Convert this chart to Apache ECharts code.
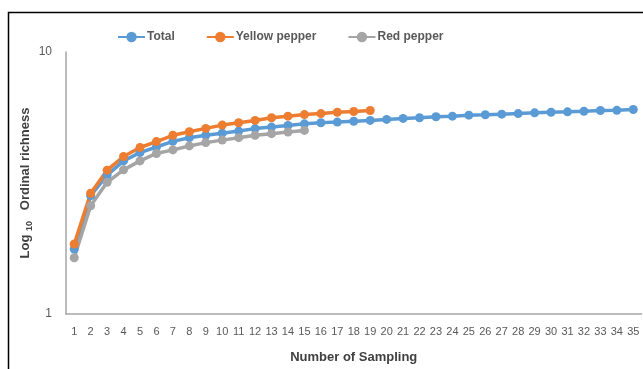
<!DOCTYPE html>
<html>
<head>
<meta charset="utf-8">
<script src="https://cdn.jsdelivr.net/npm/echarts@6/dist/echarts.min.js"></script>
<style>html,body{margin:0;padding:0;background:#fff;}#c{width:643px;height:369px;}</style>
</head>
<body>
<div id="c"></div>
<script>
const categories = Array.from({length: 35}, (_, i) => String(i + 1));
const totalValues = [1.77, 2.83, 3.39, 3.84, 4.13, 4.34, 4.56, 4.71, 4.81, 4.90, 4.99, 5.10, 5.17, 5.24, 5.32, 5.37, 5.40, 5.44, 5.48, 5.53, 5.58, 5.61, 5.66, 5.69, 5.74, 5.76, 5.79, 5.82, 5.86, 5.89, 5.91, 5.94, 5.98, 5.99, 6.03];
const yellowValues = [1.85, 2.89, 3.54, 3.99, 4.32, 4.55, 4.81, 4.96, 5.11, 5.26, 5.37, 5.48, 5.61, 5.69, 5.77, 5.82, 5.89, 5.93, 5.98];
const redValues = [1.64, 2.59, 3.18, 3.55, 3.84, 4.10, 4.23, 4.38, 4.51, 4.61, 4.71, 4.81, 4.88, 4.95, 5.02];
const seriesNames = ['Total', 'Yellow pepper', 'Red pepper'];
const colors = ['#5B9BD5', '#ED7D31', '#A5A5A5'];
const font = "'Liberation Sans', Arial, sans-serif";

const chart = echarts.init(document.getElementById('c'));
const mk = (name, data, color) => ({
  name, type: 'line', data, color,
  symbol: 'circle', symbolSize: 9,
  lineStyle: {width: 3.5, color},
  itemStyle: {color},
  animation: false
});
chart.setOption({
  animation: false,
  textStyle: {fontFamily: font},
  graphic: [{
    type: 'rect', silent: true,
    shape: {x: 8.5, y: 12.5, width: 700, height: 400},
    style: {fill: 'none', stroke: '#000', lineWidth: 1.5}
  }],
  legend: {
    top: 26, left: 112,
    itemWidth: 27, itemHeight: 13, itemGap: 31,
    textStyle: {color: '#595959', fontSize: 12, fontWeight: 'bold', fontFamily: font, padding: [0, 0, 0, -3]},
    data: seriesNames
  },
  grid: {left: 66, top: 52, right: 1.5, bottom: 54, containLabel: false},
  xAxis: {
    type: 'category', data: categories, boundaryGap: true,
    axisLine: {lineStyle: {color: '#A6A6A6', width: 1.5}},
    axisTick: {show: false},
    axisLabel: {color: '#595959', fontSize: 11, margin: 12, interval: 0, fontFamily: font},
    name: 'Number of Sampling', nameLocation: 'middle', nameGap: 37,
    nameTextStyle: {color: '#404040', fontSize: 13, fontWeight: 'bold', fontFamily: font}
  },
  yAxis: {
    type: 'log', logBase: 10, min: 1, max: 10,
    axisLine: {show: true, lineStyle: {color: '#A6A6A6', width: 1.5}},
    axisTick: {show: false},
    splitLine: {show: false},
    axisLabel: {color: '#595959', fontSize: 12, margin: 14, fontFamily: font},
    name: '{a|Log }{b|10}{a|   Ordinal richness}', nameLocation: 'middle', nameGap: 34, nameRotate: 90,
    nameMoveOverlap: false,
    nameTextStyle: {
      color: '#404040', fontFamily: font,
      rich: {
        a: {fontSize: 13, fontWeight: 'bold', color: '#404040', fontFamily: font, lineHeight: 16, verticalAlign: 'bottom'},
        b: {fontSize: 9, fontWeight: 'bold', color: '#404040', fontFamily: font, lineHeight: 16, verticalAlign: 'bottom', padding: [0, 0, -2, 0]}
      }
    }
  },
  series: [
    mk(seriesNames[0], totalValues, colors[0]),
    mk(seriesNames[1], yellowValues, colors[1]),
    mk(seriesNames[2], redValues, colors[2])
  ]
});
</script>
</body>
</html>
